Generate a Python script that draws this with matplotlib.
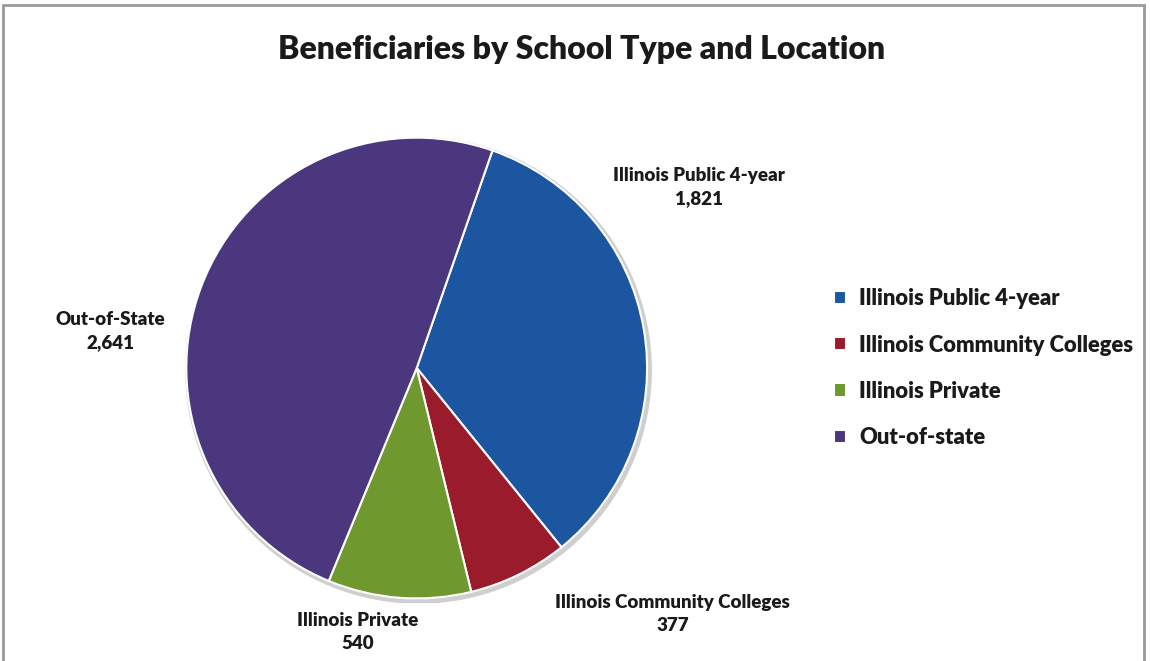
import matplotlib.pyplot as plt
from matplotlib.patches import Rectangle, Circle

# data
categories = ["Illinois Public 4-year", "Illinois Community Colleges", "Illinois Private", "Out-of-state"]
slice_labels = ["Illinois Public 4-year", "Illinois Community Colleges", "Illinois Private", "Out-of-State"]
values = [1821, 377, 540, 2641]
colors = ["#1d56a0", "#9a1c2c", "#6f982e", "#4a377e"]

plt.rcParams['font.family'] = ['Lato', 'DejaVu Sans']
plt.rcParams['font.weight'] = 'bold'

fig = plt.figure(figsize=(11.5, 6.61), dpi=100)
fig.patch.set_facecolor("white")

# frame around the chart area
fig.patches.append(Rectangle((0.003, -0.01), 0.992, 1.002, transform=fig.transFigure,
                             fill=False, edgecolor="#9a9a9a", linewidth=2.0))

ax = fig.add_axes([0.158, 0.0877, 0.4087, 0.711])
ax.set_aspect("equal")

# soft shadow behind pie
ax.add_patch(Circle((0.008, -0.01), 1.01, color="#cfcfcf", zorder=0))

wedges, _ = ax.pie(values, colors=colors, startangle=70.8, counterclock=False,
                   wedgeprops=dict(edgecolor="white", linewidth=1.5))
for w in wedges:
    w.set_zorder(2)

# label positions (pie radius units)
label_pos = [(1.226, 0.787), (1.11, -1.068), (-0.255, -1.145), (-1.328, 0.162)]
for (x, y), lab, v in zip(label_pos, slice_labels, values):
    ax.text(x, y, f"{lab}\n{v:,}", ha="center", va="center", fontsize=13.5,
            fontweight="heavy", color="#1a1a1a", linespacing=1.45)

ax.set_xlim(-1.02, 1.02)
ax.set_ylim(-1.02, 1.02)
ax.axis("off")

fig.text(0.506, 0.925, "Beneficiaries by School Type and Location", ha="center", va="center",
         fontsize=23, fontweight="heavy", color="#1a1a1a")

leg = fig.legend(wedges, categories, loc="center left", bbox_to_anchor=(0.708, 0.443),
                 frameon=False, fontsize=15.8, handlelength=0.55, handleheight=0.55,
                 handletextpad=0.6, labelspacing=1.15)
for t in leg.get_texts():
    t.set_color("#1a1a1a")
    t.set_fontweight("heavy")

fig.savefig("out.png", dpi=100)
